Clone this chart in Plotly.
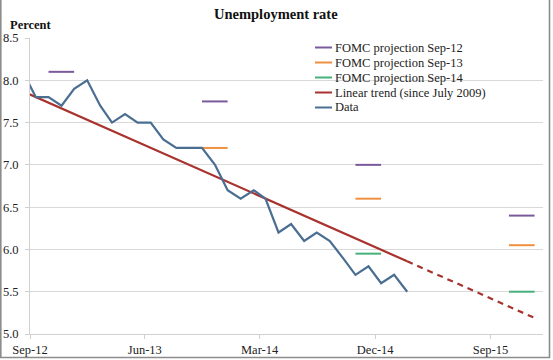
import pandas as pd
import plotly.graph_objects as go

# ---- data ----
data_start = "2012-08-01"
unemployment = [8.1, 7.8, 7.8, 7.7, 7.9, 8.0, 7.7, 7.5, 7.6, 7.5, 7.5, 7.3, 7.2, 7.2, 7.2,
                7.0, 6.7, 6.6, 6.7, 6.6, 6.2, 6.3, 6.1, 6.2, 6.1, 5.9, 5.7, 5.8, 5.6, 5.7, 5.5]

trend_months = ["2012-08", "2015-02"]
trend_values = [7.87, 5.86]
trend_ext_months = ["2015-02", "2015-12"]
trend_ext_values = [5.86, 5.19]

proj_years = [2012, 2013, 2014, 2015]
proj_sep12 = [8.1, 7.75, 7.0, 6.4]
proj_sep13 = [None, 7.2, 6.6, 6.05]
proj_sep14 = [None, None, 5.95, 5.5]

legend_labels = ["FOMC projection Sep-12", "FOMC projection Sep-13", "FOMC projection Sep-14",
                 "Linear trend (since July 2009)", "Data"]

# ---- styles ----
C_SEP12 = "#7B5A9C"
C_SEP13 = "#EE9040"
C_SEP14 = "#48B07A"
C_TREND = "#A8322D"
C_DATA = "#4A6E92"
SERIF = "Liberation Serif, Times New Roman, serif"

W, H = 553, 360
L, R, T, B = 30, 10, 38, 26
PW, PH = W - L - R, H - T - B


def mid(month_str):
    return pd.Timestamp(month_str) + pd.Timedelta(days=14)


data_dates = [d + pd.Timedelta(days=14) for d in pd.date_range(data_start, periods=len(unemployment), freq="MS")]


def proj_xy(values):
    xs, ys = [], []
    for yr, v in zip(proj_years, values):
        if v is None:
            continue
        for m in (10, 11, 12):
            xs.append(mid(f"{yr}-{m:02d}"))
            ys.append(v)
        xs.append(None)
        ys.append(None)
    return xs, ys


fig = go.Figure()
for vals, col in [(proj_sep12, C_SEP12), (proj_sep13, C_SEP13), (proj_sep14, C_SEP14)]:
    xs, ys = proj_xy(vals)
    fig.add_trace(go.Scatter(x=xs, y=ys, mode="lines", line=dict(color=col, width=2),
                             connectgaps=False, showlegend=False, hoverinfo="skip"))

fig.add_trace(go.Scatter(x=[mid(m) for m in trend_months], y=trend_values, mode="lines",
                         line=dict(color=C_TREND, width=2.2), showlegend=False))
fig.add_trace(go.Scatter(x=[mid(m) for m in trend_ext_months], y=trend_ext_values, mode="lines",
                         line=dict(color=C_TREND, width=2.2, dash="6px,5px"), showlegend=False))
fig.add_trace(go.Scatter(x=data_dates, y=unemployment, mode="lines",
                         line=dict(color=C_DATA, width=2.2), showlegend=False))


def px_x(p):
    return (p - L) / PW


def px_y(p):
    return (H - B - p) / PH


shapes = []
annotations = []
legend_colors = [C_SEP12, C_SEP13, C_SEP14, C_TREND, C_DATA]
for i, (lab, col) in enumerate(zip(legend_labels, legend_colors)):
    yc = 47.5 + 15 * i
    shapes.append(dict(type="line", xref="paper", yref="paper",
                       x0=px_x(315), x1=px_x(332), y0=px_y(yc), y1=px_y(yc),
                       line=dict(color=col, width=2)))
    annotations.append(dict(text=lab, xref="paper", yref="paper", x=px_x(333), y=px_y(yc),
                            xanchor="left", yanchor="middle", showarrow=False,
                            font=dict(family=SERIF, size=12.5, color="#222")))

# outer frame
shapes.append(dict(type="rect", xref="paper", yref="paper",
                   x0=px_x(0.8), x1=px_x(549.5), y0=px_y(357.5), y1=px_y(-2),
                   line=dict(color="#8C8C8C", width=1.6), layer="above"))

annotations.append(dict(text="<b>Unemployment rate</b>", xref="paper", yref="paper",
                        x=px_x(276), y=px_y(14), xanchor="center", yanchor="middle",
                        showarrow=False, font=dict(family=SERIF, size=14.5, color="#111")))
annotations.append(dict(text="<b>Percent</b>", xref="paper", yref="paper",
                        x=px_x(8), y=px_y(25), xanchor="left", yanchor="middle",
                        showarrow=False, font=dict(family=SERIF, size=12.5, color="#111")))

fig.update_layout(
    width=W, height=H, margin=dict(l=L, r=R, t=T, b=B, autoexpand=False),
    paper_bgcolor="white", plot_bgcolor="white",
    shapes=shapes, annotations=annotations, showlegend=False,
    font=dict(family=SERIF, size=12, color="#222"),
)
fig.update_xaxes(type="date", range=["2012-09-01", "2016-01-04"], tick0="2012-09-01", dtick="M9",
                 tickformat="%b-%y", showgrid=False, showline=True, linecolor="#D0D0D0", linewidth=1,
                 ticks="outside", ticklen=4, tickcolor="#D0D0D0", automargin=False,
                 tickfont=dict(family=SERIF, size=12.5, color="#222"), zeroline=False)
fig.update_yaxes(range=[5.0, 8.5], dtick=0.5, tickformat=".1f", showgrid=True, gridcolor="#D9D9D9",
                 gridwidth=1, showline=True, linecolor="#D0D0D0", linewidth=1,
                 ticks="outside", ticklen=4, tickcolor="#D0D0D0", automargin=False,
                 ticklabelstandoff=4,
                 tickfont=dict(family=SERIF, size=12.5, color="#222"), zeroline=False)

fig.write_html("out.html", config={"displayModeBar": False},
               post_script="document.body.style.margin='0';document.body.style.padding='0';")
